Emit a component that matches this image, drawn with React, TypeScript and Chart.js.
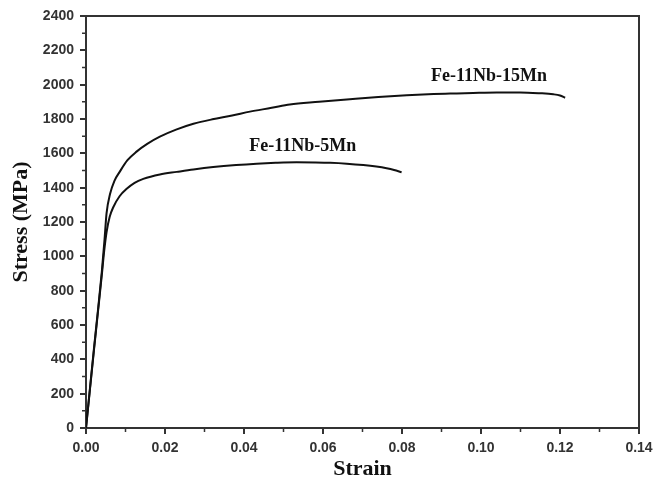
import React, { useEffect, useRef } from "react";
import { Chart, registerables } from "chart.js";

Chart.register(...registerables);

// Fe-11Nb-15Mn curve
const strain15Mn = [0, 0.001, 0.002, 0.003, 0.004, 0.0047, 0.0052, 0.0061, 0.0072, 0.0086, 0.0105, 0.0128, 0.0155, 0.0187, 0.0228, 0.0272, 0.032, 0.037, 0.0415, 0.047, 0.0516, 0.059, 0.0668, 0.074, 0.0812, 0.088, 0.0922, 0.098, 0.104, 0.1099, 0.115, 0.1183, 0.12, 0.1213];
const stress15Mn = [0, 230, 460, 680, 910, 1100, 1250, 1364, 1440, 1495, 1560, 1610, 1655, 1697, 1738, 1772, 1798, 1820, 1843, 1865, 1885, 1900, 1915, 1928, 1938, 1945, 1948, 1952, 1955, 1955, 1950, 1944, 1937, 1924];

// Fe-11Nb-5Mn curve
const strain5Mn = [0, 0.001, 0.002, 0.003, 0.004, 0.0046, 0.0052, 0.006, 0.0069, 0.0085, 0.0103, 0.0123, 0.0145, 0.0187, 0.023, 0.0272, 0.0322, 0.038, 0.0432, 0.048, 0.0533, 0.058, 0.0618, 0.066, 0.0702, 0.0735, 0.0761, 0.078, 0.0799];
const stress5Mn = [0, 225, 450, 670, 890, 1030, 1140, 1230, 1286, 1350, 1393, 1428, 1451, 1477, 1492, 1506, 1520, 1532, 1540, 1545, 1548, 1547, 1545, 1540, 1532, 1523, 1513, 1503, 1490];

const seriesNames = ["Fe-11Nb-15Mn", "Fe-11Nb-5Mn"];
const labelStrain = [0.102, 0.0549];
const labelStress = [2050, 1643];

const xMin = 0, xMax = 0.14, xStep = 0.02;
const yMin = 0, yMax = 2400, yStep = 200;

const AXIS = "#333";

const framePlugin = {
  id: "frameAndMinor",
  afterDraw(chart: any) {
    const { ctx, chartArea, scales } = chart;
    const xs = scales.x, ys = scales.y;
    ctx.save();
    ctx.strokeStyle = AXIS;
    ctx.lineWidth = 2;
    ctx.beginPath();
    ctx.moveTo(chartArea.left, chartArea.top);
    ctx.lineTo(chartArea.right, chartArea.top);
    ctx.lineTo(chartArea.right, chartArea.bottom);
    ctx.stroke();
    // minor ticks
    ctx.lineWidth = 1.5;
    ctx.beginPath();
    const xt = xs.ticks.map((t: any) => t.value);
    for (let i = 0; i < xt.length - 1; i++) {
      const px = xs.getPixelForValue((xt[i] + xt[i + 1]) / 2);
      ctx.moveTo(px, chartArea.bottom);
      ctx.lineTo(px, chartArea.bottom + 4);
    }
    const yt = ys.ticks.map((t: any) => t.value);
    for (let i = 0; i < yt.length - 1; i++) {
      const py = ys.getPixelForValue((yt[i] + yt[i + 1]) / 2);
      ctx.moveTo(chartArea.left, py);
      ctx.lineTo(chartArea.left - 4, py);
    }
    ctx.stroke();
    // series labels
    ctx.fillStyle = "#111";
    ctx.font = "bold 18px 'Liberation Serif', 'Times New Roman', serif";
    ctx.textAlign = "center";
    ctx.textBaseline = "middle";
    seriesNames.forEach((n, i) => {
      ctx.fillText(n, xs.getPixelForValue(labelStrain[i]), ys.getPixelForValue(labelStress[i]));
    });
    ctx.restore();
  },
};

export default function App() {
  const ref = useRef<HTMLCanvasElement>(null);
  useEffect(() => {
    document.body.style.margin = "0";
    const toPts = (xa: number[], ya: number[]) => xa.map((x, i) => ({ x, y: ya[i] }));
    const tickFont = { family: "'Liberation Sans', Arial, sans-serif", size: 14, weight: "bold" as const };
    const titleFont = { family: "'Liberation Serif', 'Times New Roman', serif", size: 22, weight: "bold" as const };
    const chart = new Chart(ref.current!, {
      type: "line",
      data: {
        datasets: [
          { label: seriesNames[0], data: toPts(strain15Mn, stress15Mn), borderColor: "#111", borderWidth: 2, pointRadius: 0, cubicInterpolationMode: "monotone", fill: false },
          { label: seriesNames[1], data: toPts(strain5Mn, stress5Mn), borderColor: "#111", borderWidth: 2, pointRadius: 0, cubicInterpolationMode: "monotone", fill: false },
        ],
      },
      options: {
        animation: false,
        responsive: false,
        layout: { padding: { top: 16, right: 14, left: 0, bottom: 0 } },
        plugins: { legend: { display: false }, tooltip: { enabled: false } },
        scales: {
          x: {
            type: "linear",
            min: xMin,
            max: xMax,
            afterFit: (s: any) => { s.height = 59; s.paddingLeft = 0; s.paddingRight = 0; },
            ticks: { stepSize: xStep, callback: (v: any) => Number(v).toFixed(2), font: tickFont, color: AXIS, padding: 6, maxRotation: 0 },
            grid: { drawOnChartArea: false, drawTicks: true, tickLength: 6, color: AXIS, lineWidth: 2 },
            border: { display: true, color: AXIS, width: 2 },
            title: { display: true, text: "Strain", font: titleFont, color: "#111", padding: { top: 0, bottom: 4 } },
          },
          y: {
            type: "linear",
            min: yMin,
            max: yMax,
            afterFit: (s: any) => { s.width = 86; s.paddingTop = 0; s.paddingBottom = 0; },
            ticks: { stepSize: yStep, callback: (v: any) => String(Math.round(Number(v))), font: tickFont, color: AXIS, padding: 6 },
            grid: { drawOnChartArea: false, drawTicks: true, tickLength: 6, color: AXIS, lineWidth: 2 },
            border: { display: true, color: AXIS, width: 2 },
            title: { display: true, text: "Stress (MPa)", font: titleFont, color: "#111", padding: { top: 8, bottom: 0 } },
          },
        },
      },
      plugins: [framePlugin],
    } as any);
    return () => chart.destroy();
  }, []);
  return (
    <div style={{ width: 653, height: 487, background: "#fff" }}>
      <canvas ref={ref} width={653} height={487} style={{ display: "block" }} />
    </div>
  );
}
